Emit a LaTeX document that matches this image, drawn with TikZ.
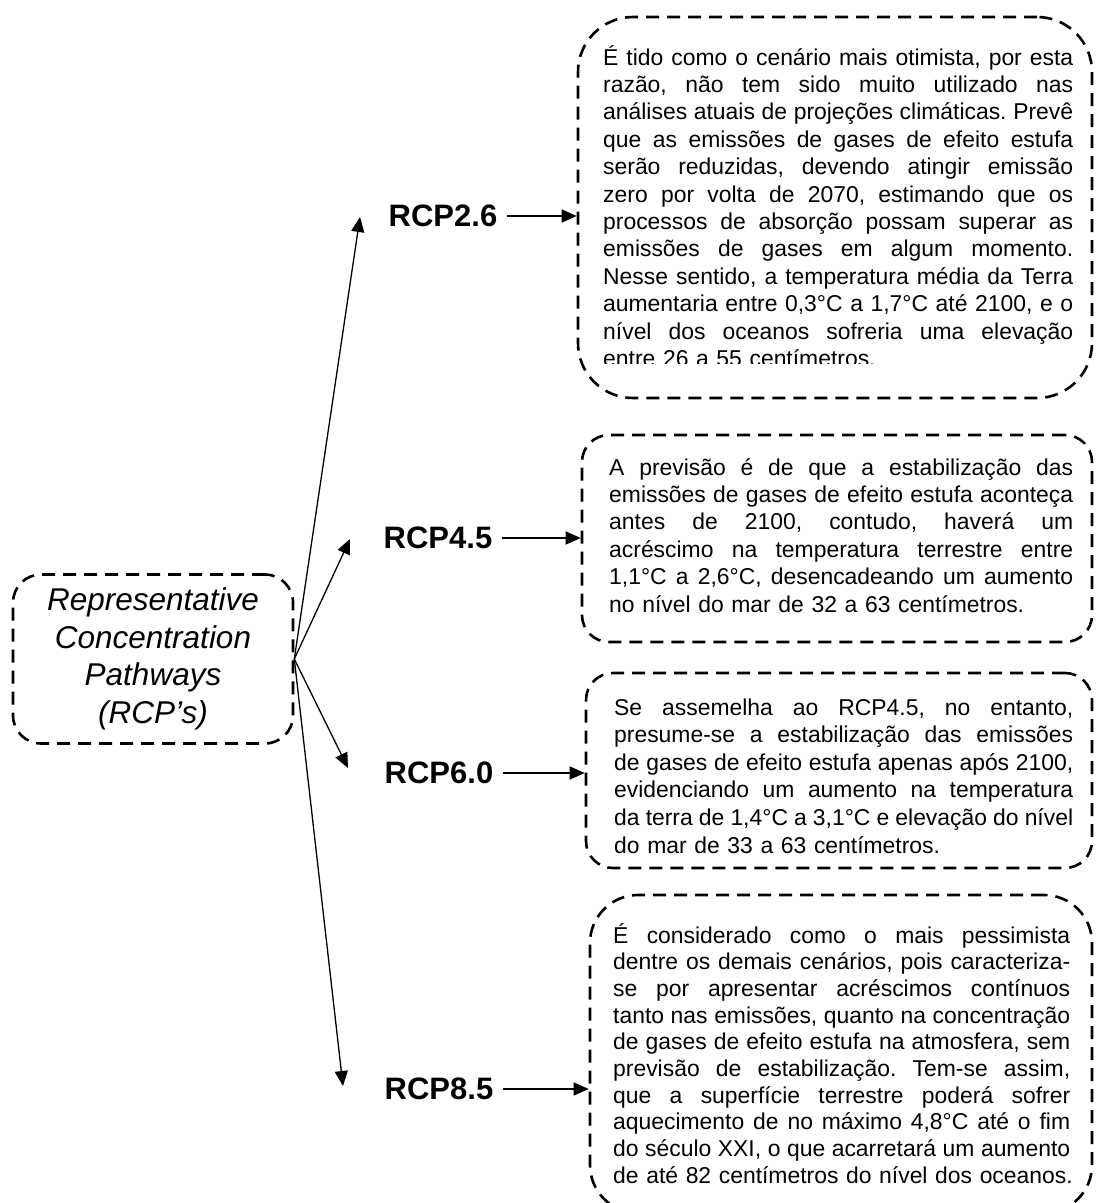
\documentclass[tikz,border=0pt]{standalone}
\usepackage{fontspec}
\setmainfont{Liberation Sans}
\usetikzlibrary{arrows.meta,calc}
\newcommand{\jl}[1]{\makebox[\linewidth][s]{\frenchspacing\spaceskip=\fontdimen2\font plus 1fil minus 0.1em\relax #1}\\}
\newcommand{\lastln}[1]{\mbox{\frenchspacing #1}}
\begin{document}
\begin{tikzpicture}[x=1pt,y=-1pt,
  dbox/.style={draw, line width=2.6pt, dash pattern=on 13pt off 8pt, rectangle, inner sep=0pt},
  txt/.style={anchor=base west, inner sep=0pt, font=\fontsize{22.9}{27.4}\selectfont},
  lbl/.style={inner xsep=10pt, inner ysep=0pt, font=\fontsize{31}{36}\selectfont\bfseries},
  arr/.style={line width=1.3pt, -{Triangle[length=15pt,width=13pt]}}]
\useasboundingbox (0,0) rectangle (1097,1203);
\clip (0,0) rectangle (1097,1203);

% left box
\node[dbox, rounded corners=28pt, minimum width=280pt, minimum height=169pt, align=center,
      font=\fontsize{31.5}{37.5}\selectfont\itshape] (lb) at (153,659)
  {Representative\\Concentration\\Pathways\\(RCP’s)};

% right boxes
\node[dbox, rounded corners=55pt, minimum width=514pt, minimum height=381pt] (b1) at (835,207.5) {};
\node[dbox, rounded corners=27pt, minimum width=510pt, minimum height=207pt] (b2) at (837,538.5) {};
\node[dbox, rounded corners=27pt, minimum width=506pt, minimum height=195pt] (b3) at (839,770.5) {};
\node[dbox, rounded corners=48pt, minimum width=502pt, minimum height=318pt] (b4) at (841,1054) {};

% labels
\node[lbl] (l1) at (443,216) {RCP2.6};
\node[lbl] (l2) at (438,538) {RCP4.5};
\node[lbl] (l3) at (439,773) {RCP6.0};
\node[lbl] (l4) at (439,1089) {RCP8.5};

% tips of the fan arrows
\coordinate (p1) at (360,217);
\coordinate (p2) at (350,539);
\coordinate (p3) at (348,768);
\coordinate (p4) at (343,1086);

\draw[arr] (lb.east) -- (p1);
\draw[arr] (lb.east) -- (p2);
\draw[arr] (lb.east) -- (p3);
\draw[arr] (lb.east) -- (p4);

\draw[arr] (l1.east) -- (l1.east -| b1.west);
\draw[arr] (l2.east) -- (l2.east -| b2.west);
\draw[arr] (l3.east) -- (l3.east -| b3.west);
\draw[arr] (l4.east) -- (l4.east -| b4.west);

% texts
\begin{scope}
\clip (560,0) rectangle (1097,363);
\node[txt, text width=470pt] (t1) at (603,65) {%
\jl{É tido como o cenário mais otimista, por esta}%
\jl{razão, não tem sido muito utilizado nas}%
\jl{análises atuais de projeções climáticas. Prevê}%
\jl{que as emissões de gases de efeito estufa}%
\jl{serão reduzidas, devendo atingir emissão}%
\jl{zero por volta de 2070, estimando que os}%
\jl{processos de absorção possam superar as}%
\jl{emissões de gases em algum momento.}%
\jl{Nesse sentido, a temperatura média da Terra}%
\jl{aumentaria entre 0,3°C a 1,7°C até 2100, e o}%
\jl{nível dos oceanos sofreria uma elevação}%
\lastln{entre 26 a 55 centímetros.}};
\end{scope}

\node[txt, text width=464pt] (t2) at (609,475) {%
\jl{A previsão é de que a estabilização das}%
\jl{emissões de gases de efeito estufa aconteça}%
\jl{antes de 2100, contudo, haverá um}%
\jl{acréscimo na temperatura terrestre entre}%
\jl{1,1°C a 2,6°C, desencadeando um aumento}%
\lastln{no nível do mar de 32 a 63 centímetros.}};

\node[txt, text width=459pt, font=\fontsize{22.9}{27.6}\selectfont] (t3) at (614,715) {%
\jl{Se assemelha ao RCP4.5, no entanto,}%
\jl{presume-se a estabilização das emissões}%
\jl{de gases de efeito estufa apenas após 2100,}%
\jl{evidenciando um aumento na temperatura}%
\jl{da terra de 1,4°C a 3,1°C e elevação do nível}%
\lastln{do mar de 33 a 63 centímetros.}};

\node[txt, text width=457pt, font=\fontsize{22.9}{26.7}\selectfont] (t4) at (613,943) {%
\jl{É considerado como o mais pessimista}%
\jl{dentre os demais cenários, pois caracteriza-}%
\jl{se por apresentar acréscimos contínuos}%
\jl{tanto nas emissões, quanto na concentração}%
\jl{de gases de efeito estufa na atmosfera, sem}%
\jl{previsão de estabilização. Tem-se assim,}%
\jl{que a superfície terrestre poderá sofrer}%
\jl{aquecimento de no máximo 4,8°C até o fim}%
\jl{do século XXI, o que acarretará um aumento}%
\lastln{de até 82 centímetros do nível dos oceanos.}};
\end{tikzpicture}
\end{document}
